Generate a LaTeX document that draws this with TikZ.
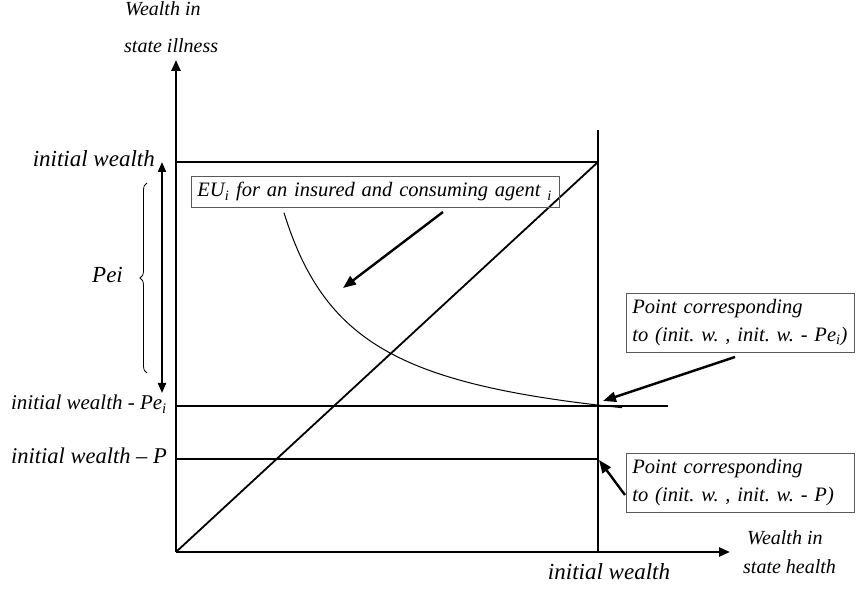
\documentclass[tikz,border=0pt]{standalone}
\usepackage{fontspec}
\setmainfont{Liberation Serif}
\usetikzlibrary{arrows.meta,decorations.pathreplacing}
\frenchspacing
\begin{document}
\begin{tikzpicture}[x=1pt,y=1pt,
  lab/.style={inner sep=0pt, font=\fontsize{23}{26}\selectfont\itshape},
  labp/.style={inner sep=0pt, font=\fontsize{22.5}{26}\selectfont\itshape},
  labe/.style={inner sep=0pt, font=\fontsize{21}{24}\selectfont\itshape},
  small/.style={inner sep=0pt, font=\fontsize{20}{24}\selectfont\itshape},
  axis/.style={line width=2.4pt, -{Triangle[length=11pt,width=9pt]}},
  guide/.style={line width=1.2pt},
  callout/.style={line width=2.4pt, -{Triangle[length=13pt,width=10pt]}},
  box/.style={draw=black!65, line width=0.9pt, align=left, inner xsep=6pt, inner ysep=0pt, font=\fontsize{20.5}{28}\selectfont\itshape, anchor=north west}]
\useasboundingbox (0,0) rectangle (856,589);
% key points
\coordinate (O) at (176,37);
\coordinate (Ytop) at (176,529);
\coordinate (Xtip) at (730,37);
\coordinate (T) at (598,427);
\coordinate (Vtop) at (598,459);
\coordinate (Vbot) at (598,37);
\coordinate (Wl) at (176,427);
\coordinate (Pel) at (176,183);
\coordinate (Per) at (668,183);
\coordinate (Pl) at (176,130);
\coordinate (PPt) at (598,130);
% guides
\draw[guide] (Wl) -- (T);
\draw[guide] (Pel) -- (Per);
\draw[guide] (Pl) -- (PPt);
\draw[guide] (Vtop) -- (Vbot);
% diagonal
\draw[line width=1.8pt] (O) -- (T);
% indifference curve
\draw[line width=1pt] plot[domain=284:622,samples=100] (\x,{139+174/(0.01*(\x-210.6))});
% axes
\draw[axis] (O) -- (Ytop);
\draw[axis] (O) -- (Xtip);
% double arrow and brace
\coordinate (da1) at (162,427);
\coordinate (da2) at (162,196);
\draw[line width=2pt, {Triangle[length=10pt,width=8pt]}-{Triangle[length=10pt,width=8pt]}] (da1) -- (da2);
\coordinate (br1) at (147,216);
\coordinate (br2) at (147,406);
\draw[line width=0.8pt, decorate, decoration={brace, amplitude=7pt}] (br1) -- (br2);
% labels
\node[small, anchor=base west] (wy1) at (125,573) {Wealth in};
\node[small, anchor=base west] (wy2) at (124,536) {state illness};
\node[lab, anchor=base east] (iw) at (155,422) {initial wealth};
\node[labe, anchor=base east] (iwpe) at (167,179) {initial wealth - Pe\textsubscript{i}};
\node[labp, anchor=base east] (iwp) at (167,125) {initial wealth – P};
\node[lab, anchor=base west] (pei) at (92,306) {Pei};
\node[lab, anchor=base] (iwx) at (609,10) {initial wealth};
\node[small, anchor=base west] (wx1) at (747,45) {Wealth in};
\node[small, anchor=base west] (wx2) at (743,16) {state health};
% boxes
\node[box, text width=356pt, minimum height=31pt] (eu) at (191,413) {EU\textsubscript{i} for an insured and consuming agent \textsubscript{i}};
\node[box, text width=216pt, minimum height=59pt] (b2) at (626,296) {Point corresponding\\to (init. w. , init. w. - Pe\textsubscript{i})};
\node[box, text width=216pt, minimum height=59pt] (b3) at (626,136) {Point corresponding\\to (init. w. , init. w. - P)};
% callout arrows
\coordinate (eus) at (443,377);
\coordinate (eue) at (343,301);
\draw[callout] (eus) -- (eue);
\coordinate (b2s) at (735,232);
\coordinate (b2e) at (603,188);
\draw[callout] (b2s) -- (b2e);
\coordinate (b3s) at (625,94);
\coordinate (b3e) at (599,129);
\draw[callout] (b3s) -- (b3e);
\end{tikzpicture}
\end{document}
